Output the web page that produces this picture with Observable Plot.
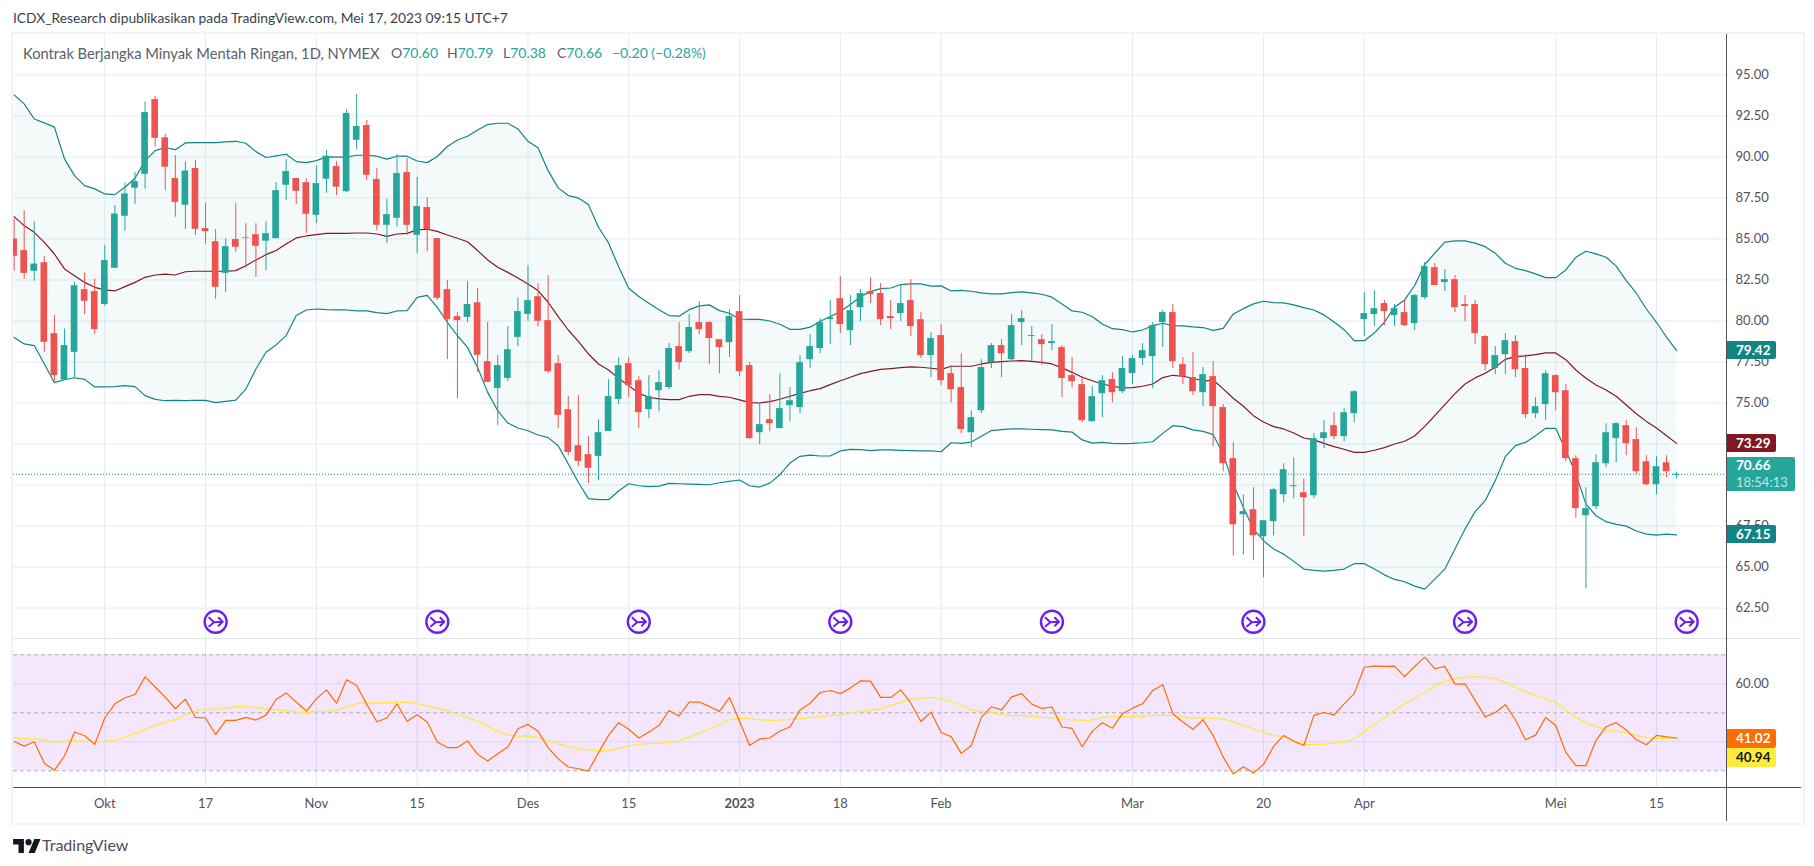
<!DOCTYPE html>
<html><head><meta charset="utf-8">
<script src="https://cdn.jsdelivr.net/npm/d3@7"></script>
<script src="https://cdn.jsdelivr.net/npm/@observablehq/plot@0.6"></script>
<style>
html,body{margin:0;padding:0;background:#fff;width:1814px;height:866px;overflow:hidden;font-family:Lato,"Open Sans",sans-serif}
#root{position:relative;width:1814px;height:866px}
#root svg{position:absolute;left:0;background:transparent}
.abs{position:absolute;white-space:nowrap}
.badge{position:absolute;left:1727px;width:49px;height:18px;line-height:18px;color:#fff;font-size:13.5px;font-weight:700;padding-left:9px;box-sizing:border-box;border-radius:0 2px 2px 0}
</style></head><body><div id="root"></div>
<script>
const open=[85.00,84.29,83.03,83.55,79.23,76.40,78.09,81.91,81.79,81.00,
83.21,86.38,88.09,88.94,93.49,91.16,88.68,87.05,89.29,85.63,
84.83,82.90,84.96,85.08,85.26,84.86,85.02,88.27,88.68,88.43,
86.44,88.64,89.41,87.88,91.01,91.91,88.62,85.83,86.26,89.04,
85.22,86.91,85.02,81.91,80.26,80.22,81.11,77.52,75.89,76.50,
79.0,80.40,81.48,80.02,77.40,74.59,72.40,71.85,71.75,73.27,
75.22,77.40,76.36,74.60,75.75,75.94,78.44,78.13,79.9,79.9,
78.86,78.68,80.57,77.28,73.19,73.99,73.44,74.84,74.72,77.64,
78.32,80.08,81.36,79.41,80.81,81.79,81.67,80.27,80.45,81.24,
80.08,77.89,79.11,76.79,75.94,73.19,74.53,77.46,78.5,77.64,
79.9,79.05,78.86,78.62,78.38,76.67,76.12,73.86,75.57,76.43,
75.69,76.79,77.71,77.83,79.9,80.51,77.34,76.55,75.63,76.61,
74.72,71.61,68.19,68.5,66.85,67.77,69.41,69.9,69.53,69.35,
72.83,73.62,72.95,74.35,80.08,80.39,81.06,80.33,80.51,79.84,
81.42,83.25,82.34,82.52,81.0,81.0,79.05,77.1,77.95,78.74,
77.1,74.35,74.9,76.67,75.75,71.61,68.13,68.68,71.3,72.83,
73.62,72.77,71.42,70.02,71.36,70.60];
const close=[83.94,82.90,83.47,78.70,76.67,78.50,82.15,81.20,79.47,83.68,
86.52,87.74,88.49,92.70,91.13,89.37,87.23,89.14,85.59,85.44,
82.05,84.53,84.49,85.04,84.55,85.32,87.94,89.10,87.90,86.50,
88.37,90.04,88.15,92.64,91.85,88.88,85.83,86.48,88.98,85.83,
86.97,85.57,81.38,80.08,80.02,81.0,77.91,76.26,77.28,78.25,
80.57,81.24,79.98,76.91,74.25,71.99,71.44,71.02,73.19,75.39,
77.28,76.06,74.41,75.39,76.24,78.32,77.46,79.6,79.47,78.93,
78.38,80.27,76.91,72.83,73.68,73.74,74.66,75.14,77.46,78.44,
79.9,80.2,79.78,80.63,81.67,81.61,80.08,80.14,81.06,79.66,
77.89,78.93,76.36,75.81,73.38,74.11,77.16,78.5,78.01,79.72,
80.14,79.11,78.56,78.74,76.49,76.30,73.92,75.39,76.36,75.63,
77.1,77.71,78.19,79.72,80.51,77.52,76.61,75.69,76.73,74.78,
71.30,67.58,68.38,66.91,67.83,69.72,70.94,69.96,69.23,72.83,
73.19,72.95,74.41,75.69,80.45,80.75,80.57,80.75,79.72,81.55,
83.32,82.16,82.52,80.81,80.88,79.23,77.34,77.89,78.8,77.03,
74.29,74.78,76.79,75.63,71.61,68.56,68.56,71.36,73.19,73.74,
72.52,70.81,70.02,71.12,70.81,70.66];
const high=[86.22,86.72,86.05,83.92,80.33,79.51,82.35,82.94,82.56,84.59,
87.03,88.41,89.06,93.35,93.68,91.36,90.08,89.71,89.77,87.15,
85.57,85.02,87.15,85.93,85.93,86.05,88.43,89.83,88.68,88.66,
89.47,90.38,89.71,92.88,93.80,92.21,89.29,87.40,90.14,89.90,
88.74,87.52,85.02,82.46,80.51,82.40,81.97,79.90,77.89,79.65,
81.42,83.37,82.27,82.76,77.89,75.39,75.45,72.95,73.98,76.42,
77.76,77.77,76.61,76.67,76.97,78.62,79.9,80.39,81.18,79.96,
78.86,80.69,81.55,77.46,75.02,75.51,76.79,75.94,77.89,79.17,
80.14,81.24,82.71,81.55,81.91,82.64,82.28,81.24,82.16,82.52,
80.51,79.29,79.78,77.28,78.01,74.53,77.64,78.62,78.86,80.39,
80.63,79.66,79.17,79.78,78.5,77.77,76.61,76.0,76.67,76.85,
77.83,77.89,78.62,79.9,80.63,81.0,77.77,78.07,77.16,77.52,
74.9,72.58,69.41,69.84,67.83,69.78,71.3,71.67,70.39,73.13,
73.93,74.41,74.66,75.75,81.73,81.85,81.24,81.0,81.30,81.61,
83.56,83.5,83.13,82.77,81.55,81.24,79.11,78.44,79.23,79.11,
77.95,75.33,76.97,76.73,76.12,71.79,69.84,71.85,73.74,73.8,
73.93,73.5,71.79,71.73,71.79,70.79];
const low=[83.03,82.54,82.42,78.09,76.30,76.40,76.52,80.39,79.17,80.89,
83.21,85.46,87.11,88.03,90.59,87.94,86.32,85.59,85.22,84.67,
81.32,81.75,84.18,83.21,82.66,83.07,85.02,87.33,87.09,85.34,
85.93,87.78,87.64,87.82,90.44,88.55,85.5,84.71,85.71,85.22,
84.10,84.22,81.24,77.64,75.26,79.90,76.87,76.26,73.62,76.30,
78.44,79.98,79.65,76.79,73.44,71.79,71.14,70.10,70.26,73.27,
74.9,75.33,73.44,74.05,74.47,75.81,77.03,78.01,79.17,77.34,
76.79,77.77,76.61,72.77,72.46,73.25,73.44,73.86,74.35,77.1,
78.01,78.56,79.23,78.5,79.96,81.06,79.72,79.47,79.96,79.05,
77.71,76.55,76.06,75.02,73.13,72.28,74.35,77.1,76.55,77.58,
78.5,77.52,77.28,78.19,75.33,75.94,73.8,73.86,74.11,75.02,
75.57,76.12,77.28,75.87,78.38,77.1,76.12,75.45,74.78,72.34,
70.81,65.69,65.75,65.39,64.35,66.91,68.92,69.17,66.85,69.17,
72.22,72.77,72.64,73.8,79.05,79.66,79.72,79.66,79.66,79.41,
81.3,82.16,81.79,80.51,79.96,78.56,76.97,76.73,76.73,76.55,
74.05,74.05,73.93,74.53,71.42,67.95,63.68,68.5,71.06,71.36,
71.79,70.63,69.96,69.41,70.45,70.38];
const upper=[93.78,93.23,92.31,92.07,91.81,89.88,88.86,88.25,88.05,87.74,
87.70,88.15,88.70,89.77,90.38,90.57,90.44,90.85,90.87,90.87,
90.87,90.91,90.95,90.83,90.32,89.96,90.06,90.16,89.71,89.65,
89.77,90.0,89.98,89.98,90.10,90.10,90.04,89.86,90.04,90.04,
89.75,89.65,90.02,90.63,91.03,91.26,91.64,91.97,92.05,92.05,
91.70,90.95,90.55,89.16,88.11,87.64,87.50,87.09,85.71,84.75,
83.3,81.99,81.49,81.08,80.69,80.33,80.29,80.69,80.92,80.98,
80.63,80.47,80.12,80.10,80.10,80.0,79.80,79.49,79.49,79.62,
79.98,80.27,80.57,81.0,81.49,81.79,81.97,82.01,82.22,82.26,
82.26,82.12,82.14,81.83,81.87,81.81,81.71,81.65,81.65,81.73,
81.77,81.71,81.63,81.45,81.04,80.61,80.53,80.27,79.82,79.53,
79.47,79.33,79.45,79.72,79.86,79.72,79.70,79.64,79.60,79.43,
79.55,80.43,80.75,81.04,81.20,81.12,81.10,80.98,80.81,80.67,
80.37,79.94,79.47,78.80,78.80,79.27,79.92,80.84,81.28,82.16,
83.44,84.13,84.80,84.88,84.88,84.74,84.53,84.13,83.52,83.21,
83.07,82.87,82.64,82.64,83.11,83.88,84.25,84.09,83.88,83.34,
82.46,81.69,80.73,79.92,79.01,78.19];
const basis=[86.36,85.81,85.40,84.79,84.08,83.17,82.76,82.35,82.05,81.89,
81.83,82.09,82.35,82.66,82.80,82.86,82.80,83.0,83.03,83.03,
83.03,83.03,83.07,83.37,83.72,84.04,84.29,84.69,85.06,85.18,
85.26,85.34,85.34,85.34,85.36,85.36,85.30,85.16,85.30,85.34,
85.55,85.59,85.46,85.24,85.04,84.83,84.29,83.72,83.27,82.96,
82.62,82.25,81.85,81.14,80.26,79.45,78.76,77.99,77.38,77.01,
76.5,76.06,75.59,75.35,75.25,75.21,75.21,75.41,75.51,75.51,
75.41,75.35,75.19,75.02,75.0,75.08,75.23,75.41,75.59,75.75,
75.88,76.12,76.36,76.57,76.79,76.93,77.05,77.10,77.16,77.20,
77.18,77.12,77.05,77.24,77.24,77.24,77.38,77.48,77.52,77.56,
77.58,77.54,77.48,77.38,77.14,76.87,76.57,76.36,76.16,76.02,
75.92,75.94,76.02,76.16,76.55,76.69,76.63,76.51,76.34,76.40,
75.86,75.29,74.80,74.23,73.84,73.56,73.42,73.17,72.87,72.75,
72.54,72.34,72.18,71.99,71.99,72.12,72.28,72.50,72.67,72.99,
73.58,74.23,74.90,75.57,76.16,76.53,76.81,77.18,77.66,77.83,
77.87,77.95,78.05,78.05,77.64,77.01,76.51,76.10,75.79,75.41,
74.88,74.35,73.88,73.48,73.01,72.54];
const lower=[79.0,78.60,78.50,77.38,76.24,76.42,76.54,76.44,75.98,75.98,
76.0,76.06,76.0,75.45,75.22,75.14,75.16,75.14,75.16,75.16,
75.02,75.10,75.18,75.85,77.07,78.09,78.54,79.11,80.33,80.67,
80.73,80.69,80.67,80.67,80.61,80.61,80.51,80.45,80.61,80.63,
81.44,81.56,80.83,79.92,79.10,78.39,77.17,75.65,74.53,73.78,
73.48,73.31,73.05,72.89,72.40,71.28,70.16,69.17,69.11,69.11,
69.64,70.08,69.96,69.90,69.94,70.10,70.08,70.06,70.04,70.02,
70.14,70.23,70.31,69.96,69.88,70.12,70.63,71.34,71.75,71.83,
71.77,71.77,72.08,72.18,72.16,72.10,72.14,72.14,72.12,72.10,
72.08,72.08,72.03,72.58,72.54,72.62,72.97,73.32,73.38,73.42,
73.42,73.40,73.38,73.36,73.27,73.23,72.75,72.56,72.60,72.54,
72.52,72.54,72.58,72.64,73.15,73.62,73.56,73.36,73.27,73.07,
71.89,70.06,68.64,67.32,66.61,66.10,65.79,65.35,64.88,64.80,
64.76,64.80,64.88,65.21,65.21,64.88,64.53,64.25,64.11,63.84,
63.66,64.27,64.88,66.10,67.32,68.38,69.05,70.27,71.73,72.40,
72.60,73.01,73.46,73.46,72.10,70.67,68.84,68.13,67.77,67.60,
67.50,67.20,67.01,66.95,67.01,66.97];
const rsi=[40.1,38.5,40,32.6,30.2,35.1,43.4,42.1,39.1,48.2,
53.1,55.2,56.3,62.4,58.9,55.4,51.4,54.7,48.4,48.2,
42.5,47.4,47.4,48.4,47.5,49.2,54.6,56.8,53.7,50.6,
54.8,57.9,53.3,61.4,59.4,52.9,46.9,48.2,53.1,47.1,
49.3,46.8,39.9,38.0,38.0,40.3,35.7,33.4,35.9,38.2,
44.5,46.0,43.6,38.0,34.1,31.3,30.7,30.0,36.2,42.2,
46.6,44.3,41.3,43.4,45.6,50.8,48.9,53.7,53.7,52.2,
50.5,55.3,47.1,38.7,41.0,41.3,43.7,45.1,51.0,53.3,
57.0,57.7,56.6,58.6,61.0,60.9,55.3,55.3,57.9,53.3,
47.0,50.3,43.2,41.8,36.0,38.7,48.5,52.1,51.0,55.5,
56.6,53.0,51.5,52.0,45.1,44.6,38.3,43.6,46.6,44.7,
49.7,51.6,53.1,57.7,59.7,49.7,46.8,44.3,47.6,42.2,
34.7,28.9,31.4,29.2,32.2,38.4,42.2,40.2,38.7,49.1,
50.1,49.3,53.1,56.6,65.7,66.2,66.0,66.1,62.5,66.0,
69.2,65.2,66.0,59.9,60.0,54.3,48.6,50.1,52.8,47.6,
40.7,42.3,48.4,45.6,36.4,31.8,31.8,40.5,45.2,46.6,
44.1,40.7,39.0,42.2,41.7,41.3];
const rsiMa=[41.4,41.0,41.0,40.7,39.9,40.2,40.5,40.2,39.9,40.2,
40.6,41.5,42.8,44.3,45.6,46.8,47.6,49.3,50.6,51.3,
51.3,51.6,52.1,52.1,51.7,51.3,51.0,50.7,50.3,50.1,
50.5,50.6,50.9,52.1,53.2,53.4,53.4,53.4,53.7,53.6,
53.2,52.4,51.6,50.7,49.5,48.4,47.1,45.3,43.4,42.3,
42.0,42.0,41.4,40.6,39.3,38.3,37.6,37.2,36.9,37.0,
37.7,38.7,39.1,39.4,39.5,39.8,40.2,41.6,43.0,44.5,
46.0,47.6,48.2,47.9,47.6,47.4,47.5,47.7,47.9,48.3,
48.7,49.1,49.3,49.9,50.5,50.8,51.4,52.5,53.8,54.7,
54.9,55.3,54.8,53.9,52.6,51.0,50.5,50.2,49.4,49.0,
49.0,48.9,48.4,48.3,47.9,47.6,47.4,47.5,48.4,48.7,
48.7,48.7,48.9,49.0,49.2,49.0,48.7,48.2,48.2,48.0,
47.9,46.8,45.6,44.5,43.2,42.2,41.8,40.5,39.0,39.0,
39.2,39.5,40.0,41.0,43.6,45.9,48.3,50.8,53.0,55.1,
57.1,59.1,60.9,61.7,62.3,62.5,62.3,61.7,60.6,58.9,
57.4,56.0,54.9,53.6,51.0,48.5,46.6,45.2,44.1,43.6,
43.2,42.2,41.5,41.1,41.3,41.3];
const priceTicks=[62.5,65,67.5,70,72.5,75,77.5,80,82.5,85,87.5,90,92.5,95];
const timeTickIdx=[9,19,30,40,51,61,72,82,92,111,124,134,153,163];
const timeTickLabels=["Okt","17","Nov","15","Des","15","2023","18","Feb","Mar","20","Apr","Mei","15"];
const eventIdx=[20,42,62,82,103,123,144,166];
const rsiDashed=[70,50,30];
const rsiGrid=[60,40];
const lastPrice=70.66;

const GREEN="#26a69a",RED="#ef5350",BAND="#138484",MAROON="#801922",GRID="#e3ecf2",TXT="#50535e";
const F='Lato,"Open Sans",sans-serif';
const X={domain:[-0.06,169.95],axis:null};
const bars=open.map((o,i)=>({i,open:o,close:close[i],high:high[i],low:low[i],upper:upper[i],basis:basis[i],lower:lower[i],rsi:rsi[i],rsiMa:rsiMa[i],col:close[i]>=o?GREEN:RED}));
const arrowSym={draw(c,size){const k=Math.sqrt(size/Math.PI)/11;
 c.moveTo(-7*k,-4.5*k);c.lineTo(-1.5*k,0.5*k);c.lineTo(-7*k,5*k);
 c.moveTo(-1.5*k,0.5*k);c.lineTo(7*k,0);
 c.moveTo(2.5*k,-4.5*k);c.lineTo(7*k,0);c.lineTo(2.5*k,4.5*k);}};
const eventY=61.67;

const main=Plot.plot({width:1814,height:640,marginLeft:13,marginRight:88,marginTop:34,marginBottom:2,
 style:{fontFamily:F,fontSize:"13px",background:"transparent"},
 x:X,y:{domain:[60.65,97.457]},color:{type:"identity"},
 marks:[
  Plot.ruleY(priceTicks,{stroke:GRID,strokeWidth:1}),
  Plot.ruleX(timeTickIdx,{stroke:GRID,strokeWidth:1}),
  Plot.axisY({anchor:"right",ticks:priceTicks,tickFormat:d=>d.toFixed(2),tickSize:0,tickPadding:9,label:null,fill:TXT}),
  Plot.areaY(bars,{x:"i",y1:"lower",y2:"upper",fill:GREEN,fillOpacity:0.05,clip:true}),
  Plot.line(bars,{x:"i",y:"upper",stroke:BAND,strokeWidth:1.2,clip:true}),
  Plot.line(bars,{x:"i",y:"lower",stroke:BAND,strokeWidth:1.2,clip:true}),
  Plot.line(bars,{x:"i",y:"basis",stroke:MAROON,strokeWidth:1.2,clip:true}),
  Plot.ruleY([lastPrice],{stroke:BAND,strokeDasharray:"1 2",strokeWidth:1}),
  Plot.ruleX(bars,{x:"i",y1:"low",y2:"high",stroke:"col",strokeWidth:1,clip:true}),
  Plot.rect(bars,{x1:d=>d.i-0.33,x2:d=>d.i+0.33,y1:"open",y2:"close",fill:"col",clip:true}),
  Plot.dot(eventIdx,{x:d=>d,y:()=>eventY,r:11,stroke:"#6a1ff0",strokeWidth:2.4,fill:"#fff"}),
  Plot.dot(eventIdx,{x:d=>d,y:()=>eventY,r:11,symbol:arrowSym,stroke:"#6a1ff0",strokeWidth:2,fill:"none"})
 ]});
main.style.top="0px";

const rsiPlot=Plot.plot({width:1814,height:184,marginLeft:13,marginRight:88,marginTop:0,marginBottom:35,
 style:{fontFamily:F,fontSize:"13px",background:"transparent"},
 x:X,y:{domain:[24.24,75.62]},
 marks:[
  Plot.ruleX(timeTickIdx,{stroke:GRID,strokeWidth:1}),
  Plot.rectY([0],{x1:-0.06,x2:169.95,y1:30,y2:70,fill:"#9105eb",fillOpacity:0.1}),
  Plot.ruleY(rsiGrid,{stroke:"#dcd4f2",strokeWidth:1}),
  Plot.ruleY(rsiDashed,{stroke:"#b2abba",strokeDasharray:"4 3",strokeWidth:1}),
  Plot.axisY({anchor:"right",ticks:[60],tickFormat:d=>d.toFixed(2),tickSize:0,tickPadding:9,label:null,fill:TXT}),
  Plot.axisX({ticks:timeTickIdx.filter((d,i)=>timeTickLabels[i]!=="2023"),tickFormat:d=>timeTickLabels[timeTickIdx.indexOf(d)],tickSize:0,tickPadding:11,label:null,fill:TXT}),
  Plot.axisX({ticks:timeTickIdx.filter((d,i)=>timeTickLabels[i]==="2023"),tickFormat:d=>timeTickLabels[timeTickIdx.indexOf(d)],tickSize:0,tickPadding:11,label:null,fill:TXT,fontWeight:"bold"}),
  Plot.line(bars,{x:"i",y:"rsiMa",stroke:"#ffe93f",strokeWidth:1.3,clip:true}),
  Plot.line(bars,{x:"i",y:"rsi",stroke:"#ff6d00",strokeWidth:1.2,clip:true})
 ]});
rsiPlot.style.top="638px";

const root=document.getElementById("root");
function div(css,html,cls){const d=document.createElement("div");d.className=cls||"abs";d.style.cssText=css;if(html)d.innerHTML=html;root.appendChild(d);return d;}
root.append(main,rsiPlot);
div("left:11px;top:32px;width:1790px;height:789px;border:2px solid #f0f3fa;");
div("left:13px;top:638px;width:1788px;height:1px;background:#e0e3eb;");
div("left:13px;top:787px;width:1788px;height:1px;background:#50535e;");
div("left:1726px;top:34px;width:1px;height:787px;background:#50535e;");
div("left:13px;top:9px;font-size:13.8px;color:#3a3e4a;","ICDX_Research dipublikasikan pada TradingView.com, Mei 17, 2023 09:15 UTC+7");
const lc="font-size:14px;top:44px;color:#5b5e6b;";
div("left:23px;font-size:14.7px;top:43.5px;color:#5b5e6b;","Kontrak Berjangka Minyak Mentah Ringan, 1D, NYMEX");
const val=s=>`<span style="color:${GREEN}">${s}</span>`;
[[391,"O",70.60],[447,"H",70.79],[503,"L",70.38],[557,"C",70.66]].forEach(([x,k,v])=>div(`left:${x}px;`+lc,k+val(v.toFixed(2))));
div("left:612px;"+lc,val("−0.20 (−0.28%)"));
const yMain=main.scale("y"),yRsi=rsiPlot.scale("y");
const bandBadges=[["79.42",upper[upper.length-1],BAND],["73.29",basis[basis.length-1],MAROON],["67.15",lower[lower.length-1],BAND]];
bandBadges.forEach(([t,v,c])=>div(`top:${yMain.apply(v)-9}px;background:${c};`,t,"badge"));
const ly=yMain.apply(lastPrice);
div(`top:${ly-17}px;height:34px;width:68px;background:${GREEN};line-height:17px;`,`70.66<br><span style="font-weight:400;color:#bfe6e1;font-size:13px">18:54:13</span>`,"badge");
const oy=638+yRsi.apply(41.02);
div(`top:${oy-9.5}px;height:19px;background:#ff6d00;`,"41.02","badge");
div(`top:${oy+9.5}px;height:19px;background:#ffeb3b;color:#131722;`,"40.94","badge");
div("left:13px;top:836px;width:28px;height:18px;",'<svg viewBox="0 0 36 22" width="28" height="17" style="position:static;display:block"><path fill="#131722" d="M14 22H7V11H0V4h14v18zM28 22h-8l7.5-18h8L28 22z"/><circle cx="20" cy="8" r="4" fill="#131722"/></svg>');
div("left:42px;top:835px;font-size:16px;color:#4a4e5a;font-family:Lato,sans-serif;","TradingView");
</script></body></html>
